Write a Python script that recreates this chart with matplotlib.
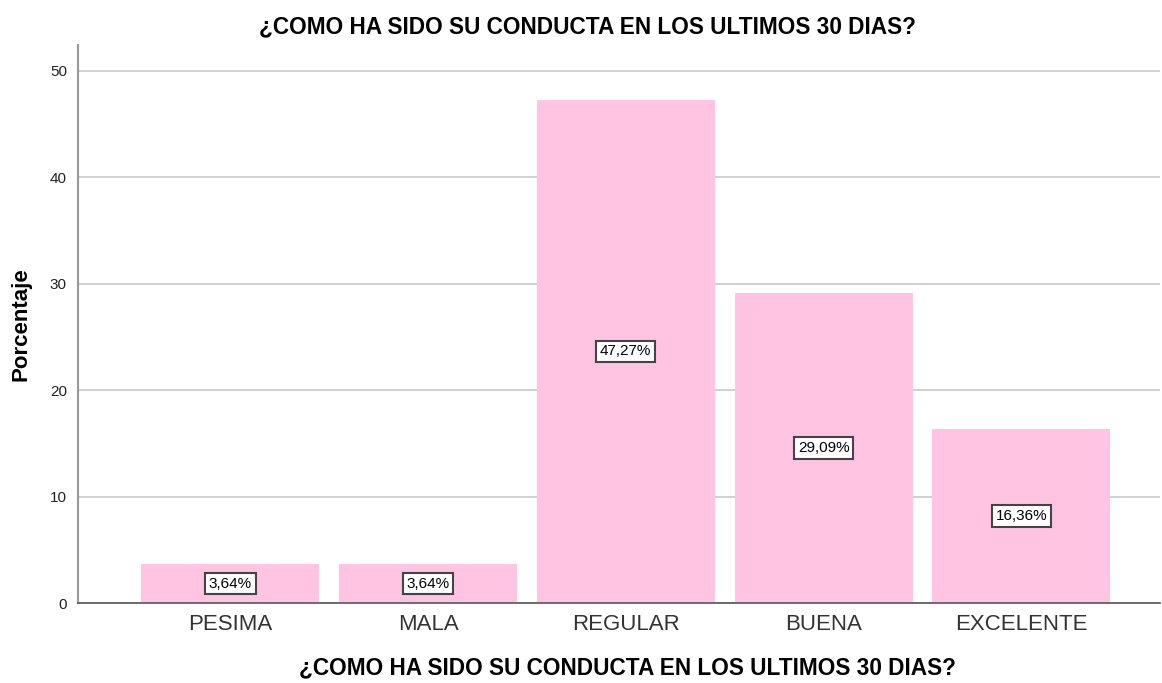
import matplotlib
matplotlib.use("Agg")
import matplotlib.pyplot as plt

plt.rcParams['font.family'] = ['Liberation Sans', 'DejaVu Sans']

categorias = ['PESIMA', 'MALA', 'REGULAR', 'BUENA', 'EXCELENTE']
porcentajes = [3.64, 3.64, 47.27, 29.09, 16.36]
etiquetas = ['3,64%', '3,64%', '47,27%', '29,09%', '16,36%']
titulo = '¿COMO HA SIDO SU CONDUCTA EN LOS ULTIMOS 30 DIAS?'

fig = plt.figure(figsize=(11.62, 6.83), dpi=100)
ax = fig.add_axes([0.0671, 0.1171, 0.931, 0.817])

x = range(len(categorias))
ax.bar(x, porcentajes, width=0.9, color='#FFC4E1', zorder=2)

for i, (v, t) in enumerate(zip(porcentajes, etiquetas)):
    ax.text(i, v / 2, t, ha='center', va='center', fontsize=11, zorder=3,
            bbox=dict(boxstyle='square,pad=0.25', fc='white', ec='#444444', lw=1.5))

ax.set_xlim(-0.77, 4.70)
ax.set_ylim(0, 52.4)
ax.set_yticks([0, 10, 20, 30, 40, 50])
ax.yaxis.grid(True, color='#c8c8c8', lw=1.2, zorder=0)
ax.set_xticks(list(x))
ax.set_xticklabels(categorias, fontsize=16, color='#333333')
ax.tick_params(axis='x', length=0, pad=8)
ax.tick_params(axis='y', length=0, labelsize=11, pad=8, colors='#222222')

for s in ['top', 'right']:
    ax.spines[s].set_visible(False)
ax.spines['left'].set_color('#999999')
ax.spines['left'].set_linewidth(1.5)
ax.spines['bottom'].set_color('#555555')
ax.spines['bottom'].set_linewidth(1.2)

ax.set_ylabel('Porcentaje', fontsize=16, fontweight='bold', labelpad=13)
fig.text(627 / 1162, 1 - 668 / 683, titulo, fontsize=16.3, fontweight='bold',
         ha='center', va='center')
fig.text(587 / 1162, 1 - 27 / 683, titulo, fontsize=16.3, fontweight='bold',
         ha='center', va='center')

fig.savefig('out.png', dpi=100)
